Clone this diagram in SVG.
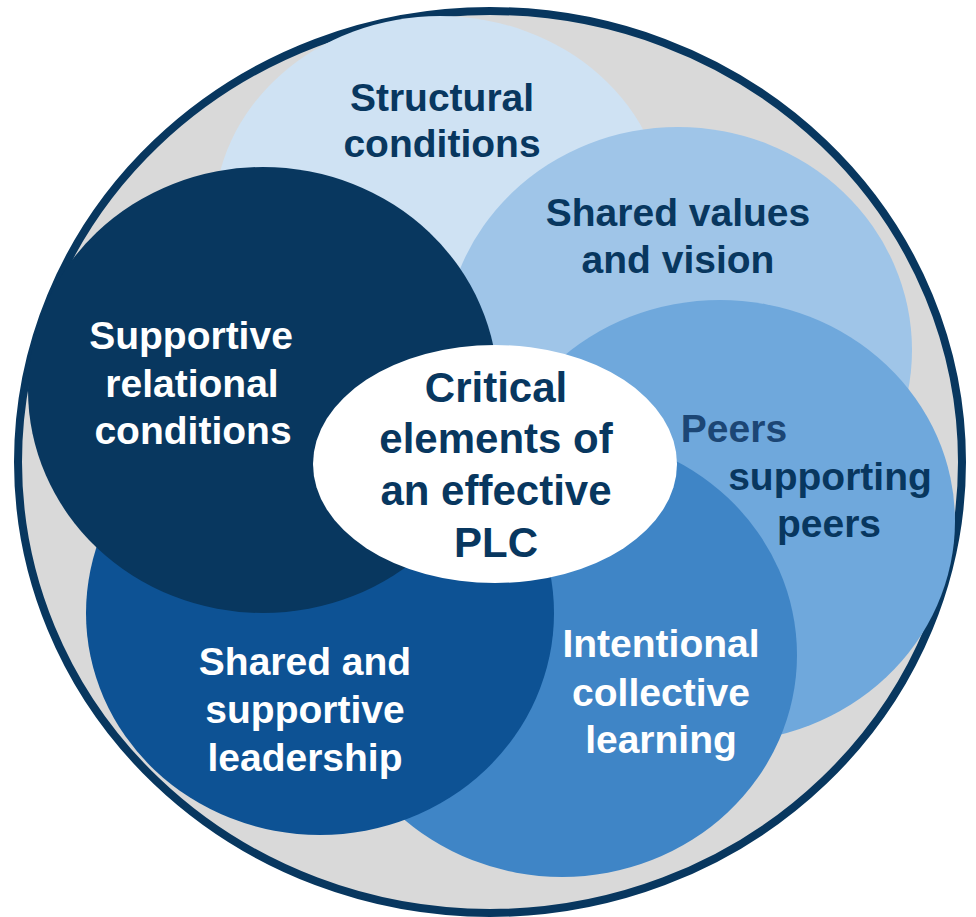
<svg xmlns="http://www.w3.org/2000/svg" width="976" height="917" viewBox="0 0 976 917">
<style>
text{font-family:"Liberation Sans",Arial,sans-serif;font-weight:bold;font-size:39px;text-anchor:middle}
.dk{fill:#08375f}
.wt{fill:#ffffff}
</style>
<rect width="976" height="917" fill="#ffffff"/>
<g id="outer">
<ellipse cx="490" cy="462" rx="472" ry="451" fill="#d9d9d9" stroke="#08375f" stroke-width="8"/>
</g>
<g id="structural">
<ellipse cx="440" cy="218" rx="226" ry="202" fill="#cfe2f3"/>
<text class="dk" x="442" y="111">Structural</text>
<text class="dk" x="442" y="157">conditions</text>
</g>
<g id="shared-values">
<ellipse cx="678" cy="350" rx="234" ry="223" fill="#9fc5e8"/>
<text class="dk" x="678" y="226">Shared values</text>
<text class="dk" x="678" y="273">and vision</text>
</g>
<g id="peers">
<ellipse cx="720" cy="521" rx="235" ry="221" fill="#6fa8dc"/>
<text style="fill:#1c4675" x="734" y="442">Peers</text>
<text class="dk" x="830" y="490">supporting</text>
<text class="dk" x="829" y="537">peers</text>
</g>
<g id="intentional">
<ellipse cx="562" cy="655" rx="235" ry="222" fill="#3f85c6"/>
<text class="wt" x="661" y="657">Intentional</text>
<text class="wt" x="661" y="706">collective</text>
<text class="wt" x="661" y="753">learning</text>
</g>
<g id="shared-leadership">
<ellipse cx="320" cy="613" rx="234" ry="222" fill="#0d5294"/>
<text class="wt" x="305" y="675">Shared and</text>
<text class="wt" x="305" y="723">supportive</text>
<text class="wt" x="305" y="771">leadership</text>
</g>
<g id="supportive-relational">
<ellipse cx="263" cy="390" rx="235" ry="223" fill="#08375f"/>
<text class="wt" x="191" y="349">Supportive</text>
<text class="wt" x="192" y="397">relational</text>
<text class="wt" x="193" y="444">conditions</text>
</g>
<g id="center">
<ellipse cx="495" cy="464" rx="182" ry="119" fill="#ffffff"/>
<text class="dk" style="font-size:42px" x="496" y="402">Critical</text>
<text class="dk" style="font-size:42px" x="496" y="453">elements of</text>
<text class="dk" style="font-size:42px" x="496" y="505">an effective</text>
<text class="dk" style="font-size:42px" x="496" y="557">PLC</text>
</g>
<g id="connectors"/>
</svg>
